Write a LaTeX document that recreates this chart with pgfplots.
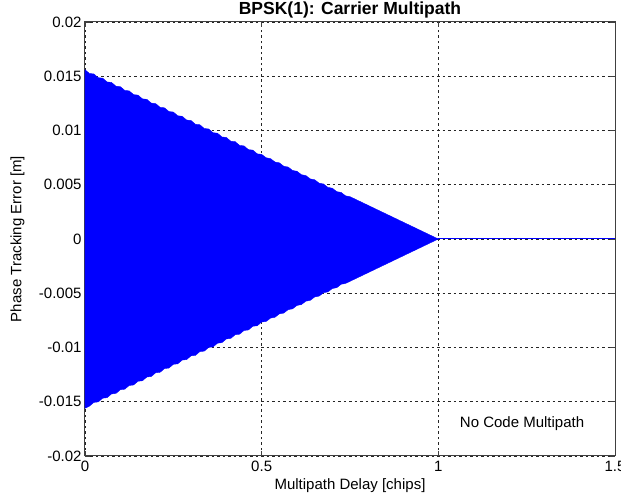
\documentclass[border=0pt]{standalone}
\usepackage{pgfplots}
\usepackage{pgfplotstable}
\pgfplotsset{compat=1.18}
\usepackage{fontspec}
\setmainfont{Liberation Sans}

% upper envelope of the carrier phase tracking error (m) vs multipath delay (chips)
\pgfplotstableread{
x y
0.0000 0.015600
0.0125 0.015255
0.0250 0.015210
0.0375 0.014865
0.0500 0.014820
0.0625 0.014475
0.0750 0.014430
0.0875 0.014085
0.1000 0.014040
0.1125 0.013695
0.1250 0.013650
0.1375 0.013305
0.1500 0.013260
0.1625 0.012915
0.1750 0.012870
0.1875 0.012525
0.2000 0.012480
0.2125 0.012135
0.2250 0.012090
0.2375 0.011745
0.2500 0.011700
0.2625 0.011355
0.2750 0.011310
0.2875 0.010965
0.3000 0.010920
0.3125 0.010575
0.3250 0.010530
0.3375 0.010185
0.3500 0.010140
0.3625 0.009795
0.3750 0.009750
0.3875 0.009405
0.4000 0.009360
0.4125 0.009015
0.4250 0.008970
0.4375 0.008625
0.4500 0.008580
0.4625 0.008235
0.4750 0.008190
0.4875 0.007845
0.5000 0.007800
0.5125 0.007485
0.5250 0.007410
0.5375 0.007095
0.5500 0.007020
0.5625 0.006705
0.5750 0.006630
0.5875 0.006315
0.6000 0.006240
0.6125 0.005925
0.6250 0.005850
0.6375 0.005535
0.6500 0.005460
0.6625 0.005145
0.6750 0.005070
0.6875 0.004755
0.7000 0.004680
0.7125 0.004365
0.7250 0.004290
0.7375 0.003975
0.7500 0.003900
0.8000 0.003120
0.8500 0.002340
0.9000 0.001560
0.9500 0.000780
1.0000 0.000000
}\upperenv

% lower envelope
\pgfplotstableread{
x y
0.0000 -0.015600
0.0125 -0.015405
0.0250 -0.015060
0.0375 -0.015015
0.0500 -0.014670
0.0625 -0.014625
0.0750 -0.014280
0.0875 -0.014235
0.1000 -0.013890
0.1125 -0.013845
0.1250 -0.013500
0.1375 -0.013455
0.1500 -0.013110
0.1625 -0.013065
0.1750 -0.012720
0.1875 -0.012675
0.2000 -0.012330
0.2125 -0.012285
0.2250 -0.011940
0.2375 -0.011895
0.2500 -0.011550
0.2625 -0.011505
0.2750 -0.011160
0.2875 -0.011115
0.3000 -0.010770
0.3125 -0.010725
0.3250 -0.010380
0.3375 -0.010335
0.3500 -0.009990
0.3625 -0.009945
0.3750 -0.009600
0.3875 -0.009555
0.4000 -0.009210
0.4125 -0.009165
0.4250 -0.008820
0.4375 -0.008775
0.4500 -0.008430
0.4625 -0.008385
0.4750 -0.008040
0.4875 -0.007995
0.5000 -0.007650
0.5125 -0.007605
0.5250 -0.007290
0.5375 -0.007215
0.5500 -0.006900
0.5625 -0.006825
0.5750 -0.006510
0.5875 -0.006435
0.6000 -0.006120
0.6125 -0.006045
0.6250 -0.005730
0.6375 -0.005655
0.6500 -0.005340
0.6625 -0.005265
0.6750 -0.004950
0.6875 -0.004875
0.7000 -0.004560
0.7125 -0.004485
0.7250 -0.004170
0.7375 -0.004095
0.7500 -0.003900
0.8000 -0.003120
0.8500 -0.002340
0.9000 -0.001560
0.9500 -0.000780
1.0000 0.000000
}\lowerenv

\definecolor{mblue}{RGB}{0,0,255}

\begin{document}
\begin{tikzpicture}
\begin{axis}[
  scale only axis,
  width=530pt, height=434pt,
  xmin=0, xmax=1.5, ymin=-0.02, ymax=0.02,
  scaled y ticks=false, scaled x ticks=false,
  xtick={0,0.5,1,1.5},
  xticklabels={0,0.5,1,1.5},
  ytick={-0.02,-0.015,-0.01,-0.005,0,0.005,0.01,0.015,0.02},
  yticklabels={-0.02,-0.015,-0.01,-0.005,0,0.005,0.01,0.015,0.02},
  grid=major,
  major grid style={black!85, dash pattern=on 2.5pt off 3pt, line width=0.8pt},
  tick align=inside,
  major tick length=5pt,
  tick style={black!75, line width=0.8pt},
  axis line style={black!75, line width=1pt},
  ticklabel style={font=\fontsize{15}{18}\selectfont},
  xticklabel style={anchor=base, yshift=-16pt},
  title={BPSK(1): Carrier Multipath},
  title style={font=\bfseries\fontsize{17.5}{21}\selectfont,
    at={(axis description cs:0.5,1.003)}, anchor=base, yshift=0pt},
  xlabel={Multipath Delay [chips]},
  xlabel style={font=\fontsize{15}{18}\selectfont,
    at={(axis description cs:0.5,-0.0772)}, anchor=base},
  ylabel={Phase Tracking Error [m]},
  ylabel style={font=\fontsize{15}{18}\selectfont,
    at={(axis description cs:-0.12,0.5)}, anchor=base},
]
\addplot[fill=mblue, draw=mblue, line width=0.4pt] table {\upperenv} \closedcycle;
\addplot[fill=mblue, draw=mblue, line width=0.4pt] table {\lowerenv} \closedcycle;
\addplot[mblue, line width=1.8pt] coordinates {(1,0.00005) (1.08,0.00005)};
\addplot[mblue, line width=1pt] coordinates {(1,0) (1.5,0)};
\node[font=\fontsize{15}{18}\selectfont] at (axis cs:1.237,-0.0170) {No Code Multipath};
\end{axis}
\pgfresetboundingbox
\path[use as bounding box] (-85pt,-38pt) rectangle (536pt,456pt);
\end{tikzpicture}
\end{document}
